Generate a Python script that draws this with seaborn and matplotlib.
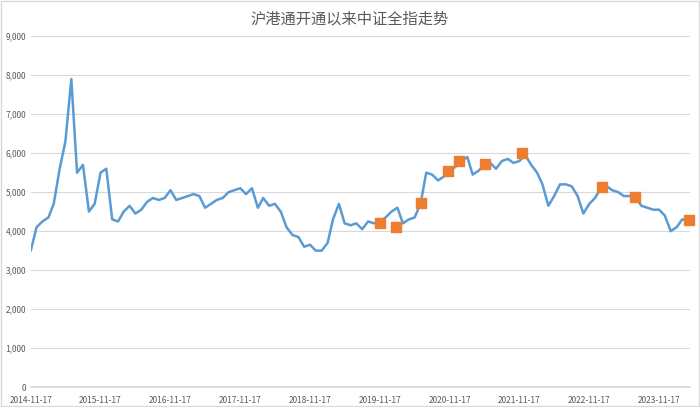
import pandas as pd
import matplotlib
matplotlib.use("Agg")
import matplotlib.pyplot as plt
import matplotlib.dates as mdates
import matplotlib.ticker as mticker
import seaborn as sns

# monthly readings of the index, Nov 2014 .. Apr 2024
values = [
    3500, 4100,
    4250, 4350, 4700, 5600, 6300, 7900, 5500, 5700, 4500, 4700, 5500, 5600,
    4300, 4250, 4500, 4650, 4450, 4550, 4750, 4850, 4800, 4850, 5050, 4800,
    4850, 4900, 4950, 4900, 4600, 4700, 4800, 4850, 5000, 5050, 5100, 4950,
    5100, 4600, 4850, 4650, 4700, 4500, 4100, 3900, 3850, 3600, 3650, 3500,
    3500, 3700, 4300, 4700, 4200, 4150, 4200, 4050, 4250, 4200, 4250, 4350,
    4500, 4600, 4200, 4300, 4350, 4700, 5500, 5450, 5300, 5400, 5550, 5650,
    5800, 5900, 5450, 5550, 5700, 5750, 5600, 5800, 5850, 5750, 5800, 5950,
    5700, 5500, 5200, 4650, 4900, 5200, 5200, 5150, 4900, 4450, 4700, 4850,
    5100, 5150, 5050, 5000, 4900, 4900, 4850, 4650, 4600, 4550, 4550, 4400,
    4000, 4100, 4300, 4280,
]
dates = pd.date_range("2014-11-01", periods=len(values), freq="MS") + pd.Timedelta(days=16)

mark_dates = pd.to_datetime([
    "2019-11-17", "2020-02-10", "2020-06-20", "2020-11-10", "2021-01-05",
    "2021-05-20", "2021-12-01", "2023-01-20", "2023-07-15", "2024-04-20",
])
mark_values = [4220, 4110, 4720, 5540, 5800, 5730, 6000, 5130, 4870, 4290]

tick_dates = pd.to_datetime([f"{y}-11-17" for y in range(2014, 2024)])

sns.set_theme(style="white")
plt.rcParams["font.family"] = ["Noto Sans CJK SC", "DejaVu Sans"]

fig = plt.figure(figsize=(7, 4.07), dpi=100)
ax = fig.add_axes([0.044, 0.049, 0.942, 0.862])

df = pd.DataFrame({"date": dates, "value": values})
sns.lineplot(data=df, x="date", y="value", ax=ax, color="#5B9BD5", linewidth=1.8)
ax.scatter(mark_dates, mark_values, marker="s", s=55, color="#ED7D31", zorder=3, clip_on=False)

ax.set_xlim(pd.Timestamp("2014-11-17"), pd.Timestamp("2024-04-28"))
ax.set_ylim(0, 9000)
ax.yaxis.set_major_locator(mticker.MultipleLocator(1000))
ax.yaxis.set_major_formatter(mticker.FuncFormatter(lambda v, p: f"{int(v):,}"))
ax.set_xticks(tick_dates)
ax.xaxis.set_major_formatter(mdates.DateFormatter("%Y-%m-%d"))
ax.tick_params(axis="both", labelsize=6, colors="#595959", length=0)
ax.tick_params(axis="x", length=3, color="#D9D9D9")
ax.grid(axis="y", color="#D9D9D9", linewidth=0.8)
for s in ["top", "right", "left"]:
    ax.spines[s].set_visible(False)
ax.spines["bottom"].set_color("#D9D9D9")
ax.set_xlabel("")
ax.set_ylabel("")

fig.suptitle("沪港通开通以来中证全指走势", y=0.975, fontsize=11, color="#595959")
fig.patches.append(plt.Rectangle((0.002, 0.003), 0.996, 0.994, transform=fig.transFigure,
                                 fill=False, edgecolor="#D9D9D9", linewidth=1))
fig.savefig("out.png", dpi=100)
